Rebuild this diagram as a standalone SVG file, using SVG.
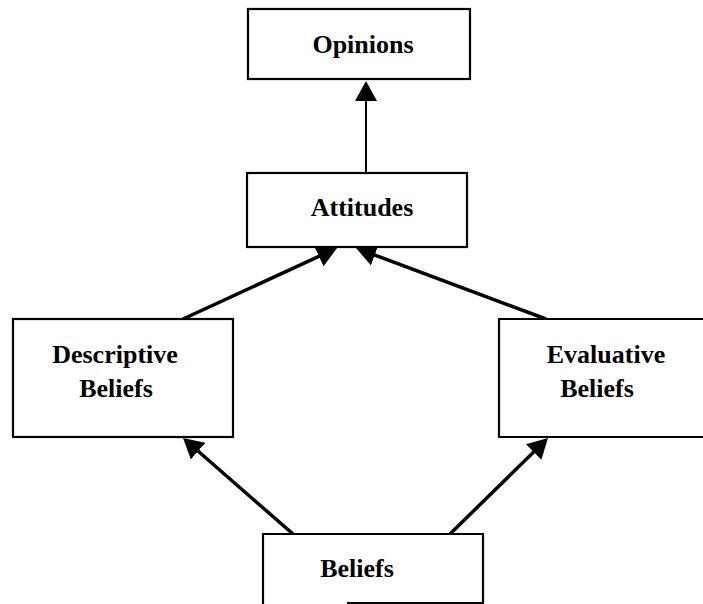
<svg xmlns="http://www.w3.org/2000/svg" width="703" height="604" viewBox="0 0 703 604">
<style>
.box{fill:#fff;stroke:#000;stroke-width:2.2}
.lbl{font-family:"Liberation Serif","Times New Roman",serif;font-weight:bold;font-size:26px;fill:#000;text-anchor:middle}
.con{stroke:#000;stroke-width:3.5;fill:none}
.thin{stroke-width:2}
</style>
<defs>
<marker id="ah" markerUnits="userSpaceOnUse" markerWidth="22" markerHeight="22" refX="15" refY="11" orient="auto">
<path d="M0,0 L20,11 L0,22 z" fill="#000"/>
</marker>
</defs>
<rect width="703" height="604" fill="#fff"/>
<g id="connectors">
<line class="con thin" x1="366" y1="173" x2="366" y2="86" marker-end="url(#ah)"/>
<line class="con" x1="183" y1="319" x2="332.5" y2="250.1" marker-end="url(#ah)"/>
<line class="con" x1="546" y1="319" x2="360.7" y2="249.8" marker-end="url(#ah)"/>
<line class="con" x1="293" y1="534" x2="186.8" y2="441.3" marker-end="url(#ah)"/>
<line class="con" x1="450" y1="534" x2="544.4" y2="441.5" marker-end="url(#ah)"/>
</g>
<g id="opinions">
<rect class="box" x="248" y="9" width="222" height="70"/>
<text class="lbl" x="363" y="53">Opinions</text>
</g>
<g id="attitudes">
<rect class="box" x="247" y="173" width="220" height="74"/>
<text class="lbl" x="362" y="216">Attitudes</text>
</g>
<g id="descriptive">
<rect class="box" x="13" y="319" width="220" height="118"/>
<text class="lbl" x="115" y="363">Descriptive</text>
<text class="lbl" x="116" y="397">Beliefs</text>
</g>
<g id="evaluative">
<path class="box" d="M710,319 H499 V437 H710"/>
<text class="lbl" x="606" y="363">Evaluative</text>
<text class="lbl" x="597" y="397">Beliefs</text>
</g>
<g id="beliefs">
<path class="box" d="M263,610 V534 H483 V603 H347"/>
<text class="lbl" x="357" y="577">Beliefs</text>
</g>
</svg>
